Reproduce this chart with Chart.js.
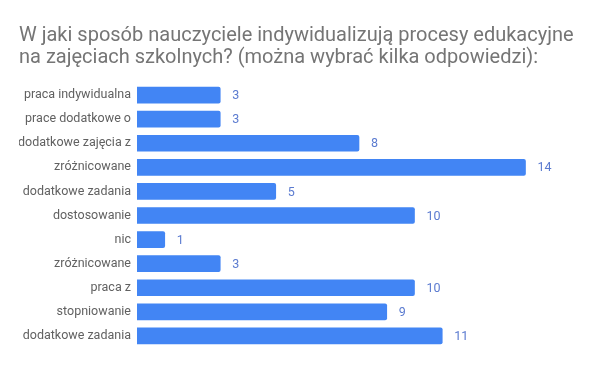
<!DOCTYPE html>
<html>
<head>
<meta charset="utf-8">
<script src="https://cdn.jsdelivr.net/npm/chart.js@4"></script>
<style>
  html, body { margin: 0; padding: 0; background: #fff; }
  #wrap { width: 600px; height: 371px; position: relative; }
</style>
</head>
<body>
<div id="wrap"><canvas id="chart"></canvas></div>
<script>
const titleLines = [
    'W jaki sposób nauczyciele indywidualizują procesy edukacyjne',
    'na zajęciach szkolnych? (można wybrać kilka odpowiedzi):'
];
const categories = [
    'praca indywidualna',
    'prace dodatkowe o',
    'dodatkowe zajęcia z',
    'zróżnicowane',
    'dodatkowe zadania',
    'dostosowanie',
    'nic',
    'zróżnicowane',
    'praca z',
    'stopniowanie',
    'dodatkowe zadania'
];
const values = [3, 3, 8, 14, 5, 10, 1, 3, 10, 9, 11];

// value labels at the end of each bar
const valueLabels = {
    id: 'valueLabels',
    afterDatasetsDraw(chart) {
        const ctx = chart.ctx;
        const meta = chart.getDatasetMeta(0);
        ctx.save();
        ctx.font = '12.5px Roboto';
        ctx.fillStyle = '#5b7bd0';
        ctx.textAlign = 'left';
        ctx.textBaseline = 'middle';
        meta.data.forEach(function (bar, i) {
            ctx.fillText(String(values[i]), bar.x + 12, bar.y + 1);
        });
        ctx.restore();
    }
};

new Chart(document.getElementById('chart').getContext('2d'), {
    type: 'bar',
    data: {
        labels: categories,
        datasets: [{
            data: values,
            backgroundColor: '#4285f4',
            borderWidth: 0,
            borderRadius: { topRight: 2, bottomRight: 2 },
            borderSkipped: false,
            barThickness: 16
        }]
    },
    options: {
        indexAxis: 'y',
        responsive: true,
        maintainAspectRatio: false,
        animation: false,
        layout: { padding: { left: 19, right: 19, top: 0, bottom: 23 } },
        plugins: {
            legend: { display: false },
            tooltip: { enabled: false },
            title: {
                display: true,
                text: titleLines,
                align: 'start',
                color: '#757575',
                font: { family: 'Roboto', size: 20, weight: 'normal', lineHeight: 1.1 },
                padding: { top: 25, bottom: 14 }
            }
        },
        scales: {
            x: {
                display: false,
                min: 0,
                max: 16
            },
            y: {
                grid: { display: false, drawTicks: false },
                border: { display: false },
                ticks: {
                    color: '#616161',
                    padding: 6,
                    font: { family: 'Roboto', size: 12.5 }
                },
                afterFit: function (scale) {
                    scale.width = 118;
                }
            }
        }
    },
    plugins: [valueLabels]
});
</script>
</body>
</html>
